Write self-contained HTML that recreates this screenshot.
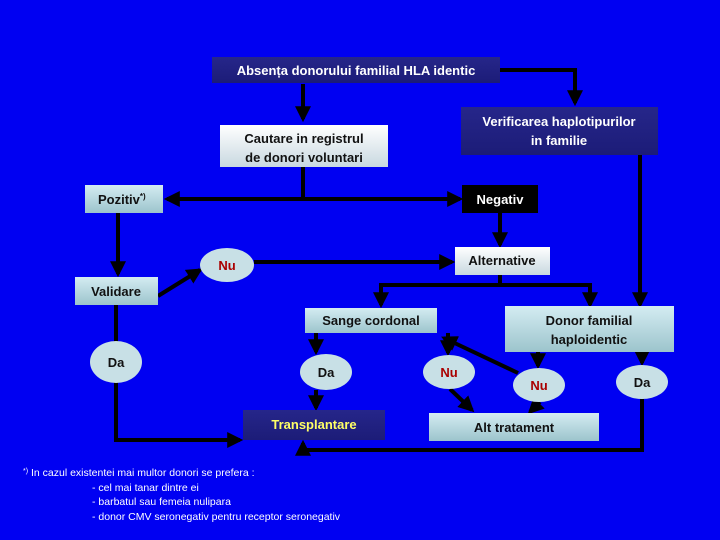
<!DOCTYPE html>
<html><head><meta charset="utf-8"><style>
html,body{margin:0;padding:0;background:#0000f2;}
svg{display:block;font-family:"Liberation Sans",sans-serif;font-weight:bold;}
</style></head><body>
<svg width="720" height="540" viewBox="0 0 720 540" xmlns="http://www.w3.org/2000/svg">
<defs>
<linearGradient id="lt" x1="0" y1="0" x2="0" y2="1"><stop offset="0" stop-color="#d4ecf2"/><stop offset="1" stop-color="#9cc4cc"/></linearGradient>
<linearGradient id="lt2" x1="0" y1="0" x2="0" y2="1"><stop offset="0" stop-color="#ffffff"/><stop offset="1" stop-color="#c8d8e0"/></linearGradient>
<linearGradient id="dk" x1="0" y1="0" x2="0" y2="1"><stop offset="0" stop-color="#26268a"/><stop offset="1" stop-color="#1c1c78"/></linearGradient>
<marker id="a" viewBox="0 0 10 10" refX="8" refY="5" markerWidth="4" markerHeight="4" orient="auto-start-reverse"><path d="M0,0 L10,5 L0,10 z" fill="#000"/></marker>
</defs>
<rect width="720" height="540" fill="#0000f2"/>
<g stroke="#000" stroke-width="4" fill="none">
<polyline points="500,70 575,70 575,103" marker-end="url(#a)"/>
<line x1="303" y1="84" x2="303" y2="119" marker-end="url(#a)"/>
<line x1="303" y1="167" x2="303" y2="199"/>
<line x1="167" y1="199" x2="460" y2="199" marker-start="url(#a)" marker-end="url(#a)"/>
<line x1="500" y1="213" x2="500" y2="245" marker-end="url(#a)"/>
<line x1="118" y1="213" x2="118" y2="274" marker-end="url(#a)"/>
<line x1="158" y1="296" x2="200" y2="270" marker-end="url(#a)"/>
<line x1="254" y1="262" x2="452" y2="262" marker-end="url(#a)"/>
<line x1="500" y1="275" x2="500" y2="285"/>
<polyline points="381,305 381,285 590,285 590,305" marker-start="url(#a)" marker-end="url(#a)"/>
<line x1="640" y1="155" x2="640" y2="305" marker-end="url(#a)"/>
<polyline points="116,305 116,440 240,440" marker-end="url(#a)"/>
<line x1="316" y1="333" x2="316" y2="352" marker-end="url(#a)"/>
<line x1="316" y1="390" x2="316" y2="408" marker-end="url(#a)"/>
<line x1="448" y1="333" x2="448" y2="353" marker-end="url(#a)"/>
<line x1="450" y1="389" x2="472" y2="410" marker-end="url(#a)"/>
<line x1="538" y1="352" x2="538" y2="366" marker-end="url(#a)"/>
<line x1="518" y1="373" x2="444" y2="338" marker-end="url(#a)"/>
<line x1="540" y1="402" x2="530" y2="412" marker-end="url(#a)"/>
<line x1="642" y1="352" x2="642" y2="363" marker-end="url(#a)"/>
<polyline points="642,399 642,450 303,450 303,443" marker-end="url(#a)"/>
</g>
<rect x="212" y="57" width="288" height="26" fill="url(#dk)"/>
<text x="356" y="75" text-anchor="middle" fill="#fff" font-size="13">Absența donorului familial HLA identic</text>
<rect x="220" y="125" width="168" height="42" fill="url(#lt2)"/>
<text x="304" y="143" text-anchor="middle" fill="#111" font-size="13">Cautare in registrul</text>
<text x="304" y="162" text-anchor="middle" fill="#111" font-size="13">de donori voluntari</text>
<rect x="461" y="107" width="197" height="48" fill="url(#dk)"/>
<text x="559" y="126" text-anchor="middle" fill="#fff" font-size="13">Verificarea haplotipurilor</text>
<text x="559" y="145" text-anchor="middle" fill="#fff" font-size="13">in familie</text>
<rect x="85" y="185" width="78" height="28" fill="url(#lt)"/>
<text x="98" y="204" fill="#111" font-size="13">Pozitiv<tspan font-size="8" dy="-5">*)</tspan></text>
<rect x="462" y="185" width="76" height="28" fill="#000"/>
<text x="500" y="204" text-anchor="middle" fill="#fff" font-size="13">Negativ</text>
<rect x="455" y="247" width="95" height="28" fill="url(#lt2)"/>
<text x="502" y="265" text-anchor="middle" fill="#111" font-size="13">Alternative</text>
<ellipse cx="227" cy="265" rx="27" ry="17" fill="#c8e0e6"/>
<text x="227" y="270" text-anchor="middle" fill="#a00" font-size="13">Nu</text>
<rect x="75" y="277" width="83" height="28" fill="url(#lt)"/>
<text x="116" y="296" text-anchor="middle" fill="#111" font-size="13">Validare</text>
<rect x="305" y="308" width="132" height="25" fill="url(#lt)"/>
<text x="371" y="325" text-anchor="middle" fill="#111" font-size="13">Sange cordonal</text>
<rect x="505" y="306" width="169" height="46" fill="url(#lt)"/>
<text x="589" y="325" text-anchor="middle" fill="#111" font-size="13">Donor familial</text>
<text x="589" y="344" text-anchor="middle" fill="#111" font-size="13">haploidentic</text>
<ellipse cx="116" cy="362" rx="26" ry="21" fill="#c8e0e6"/>
<text x="116" y="367" text-anchor="middle" fill="#111" font-size="13">Da</text>
<ellipse cx="326" cy="372" rx="26" ry="18" fill="#c8e0e6"/>
<text x="326" y="377" text-anchor="middle" fill="#111" font-size="13">Da</text>
<ellipse cx="449" cy="372" rx="26" ry="17" fill="#c8e0e6"/>
<text x="449" y="377" text-anchor="middle" fill="#a00" font-size="13">Nu</text>
<ellipse cx="539" cy="385" rx="26" ry="17" fill="#c8e0e6"/>
<text x="539" y="390" text-anchor="middle" fill="#a00" font-size="13">Nu</text>
<ellipse cx="642" cy="382" rx="26" ry="17" fill="#c8e0e6"/>
<text x="642" y="387" text-anchor="middle" fill="#111" font-size="13">Da</text>
<rect x="243" y="410" width="142" height="30" fill="url(#dk)"/>
<text x="314" y="429" text-anchor="middle" fill="#ffff66" font-size="13">Transplantare</text>
<rect x="429" y="413" width="170" height="28" fill="url(#lt)"/>
<text x="514" y="432" text-anchor="middle" fill="#111" font-size="13">Alt tratament</text>
<g fill="#fff" font-size="10.5" font-weight="normal">
<text x="23" y="476"><tspan font-size="7" dy="-3">*)</tspan><tspan dy="3"> In cazul existentei mai multor donori se prefera :</tspan></text>
<text x="92" y="491">- cel mai tanar dintre ei</text>
<text x="92" y="505">- barbatul sau femeia nulipara</text>
<text x="92" y="520">- donor CMV  seronegativ pentru receptor seronegativ</text>
</g>
</svg>
</body></html>
